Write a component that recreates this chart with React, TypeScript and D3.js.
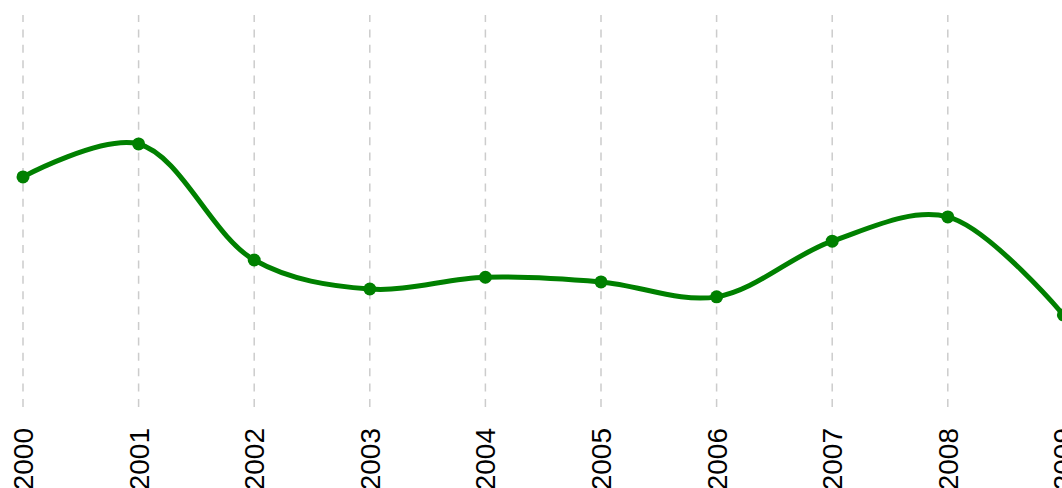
import React, { useRef, useEffect } from "react";
import * as d3 from "d3";

// chart data
const years = ["2000", "2001", "2002", "2003", "2004", "2005", "2006", "2007", "2008", "2009"];
const values = [58.7, 67.1, 37.5, 30.1, 33.1, 31.9, 28.1, 42.3, 48.5, 23.5];

const WIDTH = 1062;
const HEIGHT = 488;

const App = () => {
  const svgRef = useRef(null);

  const drawLineChart = () => {
    const svg = d3.select(svgRef.current);
    svg.selectAll("*").remove();

    const margin = { top: 15, left: 23 };
    const plotBottom = 407;

    /* scales */
    const xScale = d3
      .scalePoint()
      .domain(years)
      .range([margin.left, margin.left + 115.6 * (years.length - 1)]);

    const yScale = d3.scaleLinear().domain([0, 100]).range([plotBottom, margin.top]);

    /* vertical dashed gridlines */
    svg
      .append("g")
      .selectAll("line")
      .data(years)
      .enter()
      .append("line")
      .attr("x1", (d) => xScale(d))
      .attr("x2", (d) => xScale(d))
      .attr("y1", plotBottom)
      .attr("y2", margin.top)
      .attr("stroke", "#cccccc")
      .attr("stroke-width", 1.5)
      .attr("stroke-dasharray", "8,7.4");

    /* x labels, rotated */
    svg
      .append("g")
      .selectAll("text")
      .data(years)
      .enter()
      .append("text")
      .attr("transform", (d) => `translate(${xScale(d) + 10}, 428) rotate(-90)`)
      .attr("text-anchor", "end")
      .style("font-family", "'Liberation Sans', Arial, sans-serif")
      .style("font-size", "28px")
      .attr("fill", "#000")
      .text((d) => d);

    const data = years.map((y, i) => ({ year: y, value: values[i] }));

    /* the line */
    const line = d3
      .line()
      .x((d) => xScale(d.year))
      .y((d) => yScale(d.value))
      .curve(d3.curveCatmullRom);

    svg
      .append("path")
      .datum(data)
      .attr("d", line)
      .attr("fill", "none")
      .attr("stroke", "#008000")
      .attr("stroke-width", 5);

    /* points */
    svg
      .append("g")
      .selectAll("circle")
      .data(data)
      .enter()
      .append("circle")
      .attr("cx", (d) => xScale(d.year))
      .attr("cy", (d) => yScale(d.value))
      .attr("r", 6.5)
      .attr("fill", "#008000");
  };

  useEffect(() => {
    drawLineChart();
  }, []);

  return (
    <svg
      ref={svgRef}
      width={WIDTH}
      height={HEIGHT}
      style={{ position: "absolute", left: 0, top: 0, background: "#fff" }}
    ></svg>
  );
};

export default App;
